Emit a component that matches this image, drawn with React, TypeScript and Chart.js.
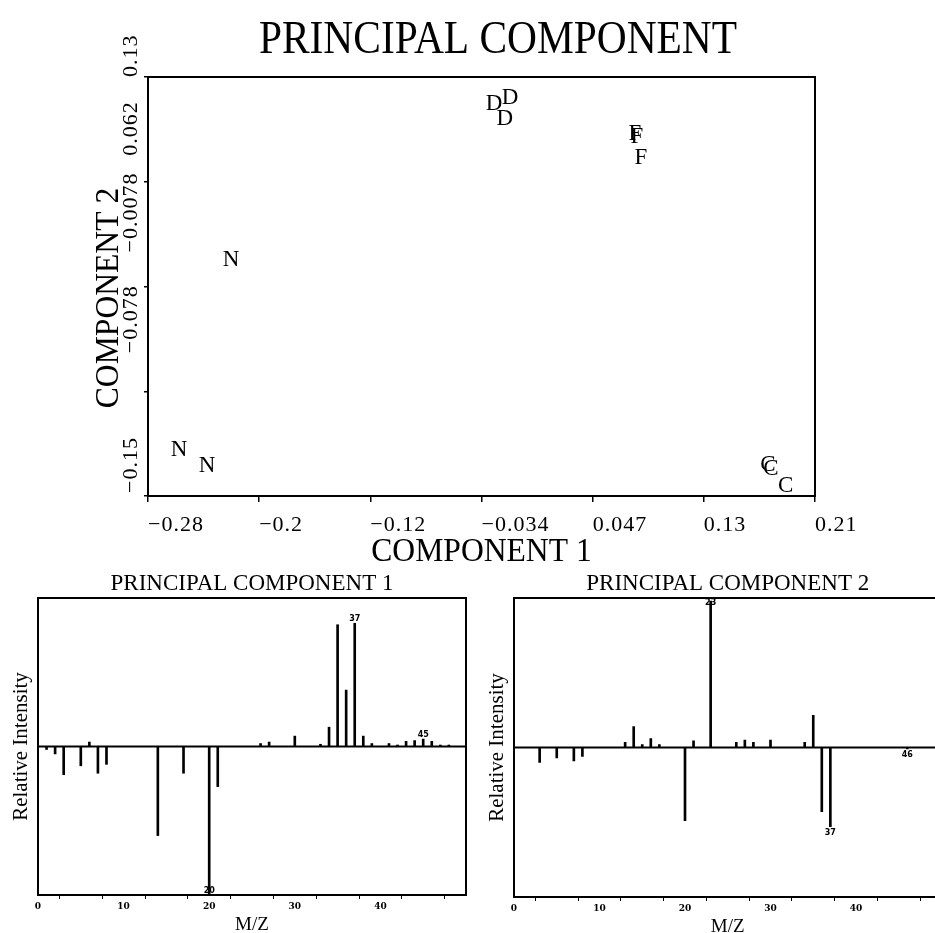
import React, { useEffect, useRef } from "react";
import { Chart, registerables } from "chart.js";

Chart.register(...registerables);

// ---------- Score plot data ----------
const sampleLetters = ["D", "D", "D", "F", "F", "F", "N", "N", "N", "C", "C", "C"];
const component1Scores = [-0.025, -0.0133, -0.017, 0.078, 0.0795, 0.0824, -0.2173, -0.2553, -0.2349, 0.1753, 0.1775, 0.1884];
const component2Scores = [0.1152, 0.1186, 0.1052, 0.0946, 0.0926, 0.0786, 0.0112, -0.1155, -0.1268, -0.1255, -0.1282, -0.1395];

const component1TickValues = [-0.278, -0.1967, -0.1154, -0.0341, 0.0472, 0.1285, 0.2098];
const component1TickLabels = ["\u22120.28", "\u22120.2", "\u22120.12", "\u22120.034", "0.047", "0.13", "0.21"];
const component2TickValues = [-0.1475, -0.07765, -0.0078, 0.06205, 0.1319];
const component2TickLabels = ["\u22120.15", "\u22120.078", "\u22120.0078", "0.062", "0.13"];

// ---------- Loading spectra ----------
const pc1Mz = [1, 2, 3, 5, 6, 7, 8, 14, 17, 20, 21, 26, 27, 30, 33, 34, 35, 36, 37, 38, 39, 41, 42, 43, 44, 45, 46, 47, 48];
const pc1Intensity = [-0.02, -0.05, -0.19, -0.13, 0.03, -0.18, -0.12, -0.6, -0.18, -1.0, -0.27, 0.02, 0.03, 0.07, 0.015, 0.13, 0.82, 0.38, 0.83, 0.07, 0.02, 0.02, 0.01, 0.035, 0.04, 0.05, 0.035, 0.01, 0.01];
const pc1PeakLabels = [37, 45, 20];

const pc2Mz = [3, 5, 7, 8, 13, 14, 15, 16, 17, 20, 21, 23, 26, 27, 28, 30, 34, 35, 36, 37, 46];
const pc2Intensity = [-0.1, -0.07, -0.09, -0.06, 0.035, 0.14, 0.02, 0.06, 0.02, -0.49, 0.045, 0.98, 0.035, 0.05, 0.035, 0.05, 0.035, 0.215, -0.43, -0.53, -0.01];
const pc2PeakLabels = [23, 37, 46];

const mzTickValues = [0, 5, 10, 15, 20, 25, 30, 35, 40, 45, 50];
const mzLabelValues = [0, 10, 20, 30, 40];

// style: vertical nudges of the rotated y tick labels (as placed in the original plot)
const yLabelNudge = [3, 38, 34, 26, 0];

type TextOpts = {
  font: string;
  align?: CanvasTextAlign;
  rotate?: number;
  scaleX?: number;
  spacing?: string;
};

function drawText(ctx: CanvasRenderingContext2D, text: string, x: number, y: number, o: TextOpts) {
  ctx.save();
  ctx.translate(x, y);
  if (o.rotate) ctx.rotate(o.rotate);
  if (o.scaleX) ctx.scale(o.scaleX, 1);
  ctx.font = o.font;
  ctx.fillStyle = "#000";
  ctx.textAlign = o.align || "left";
  ctx.textBaseline = "alphabetic";
  if (o.spacing) (ctx as any).letterSpacing = o.spacing;
  ctx.fillText(text, 0, 0);
  ctx.restore();
}

const SERIF = "'Liberation Serif', 'Times New Roman', serif";

const scorePlugin = {
  id: "scoreDecor",
  afterDraw(chart: any) {
    const { ctx, chartArea: a, scales } = chart;
    ctx.save();
    ctx.strokeStyle = "#000";
    ctx.lineWidth = 2;
    ctx.strokeRect(a.left, a.top, a.right - a.left, a.bottom - a.top);
    ctx.restore();

    const meta = chart.getDatasetMeta(0);
    meta.data.forEach((pt: any, i: number) => {
      drawText(ctx, sampleLetters[i], pt.x, pt.y + 7.5, { font: `23px ${SERIF}`, align: "center" });
    });

    component1TickValues.forEach((v, i) => {
      drawText(ctx, component1TickLabels[i], scales.x.getPixelForValue(v), a.bottom + 35, {
        font: `22px ${SERIF}`,
        spacing: "1px",
      });
    });
    component2TickValues.forEach((v, i) => {
      drawText(ctx, component2TickLabels[i], a.left - 11, scales.y.getPixelForValue(v) - yLabelNudge[i], {
        font: `22px ${SERIF}`,
        spacing: "1px",
        rotate: -Math.PI / 2,
      });
    });

    drawText(ctx, "COMPONENT 1", (a.left + a.right) / 2, a.bottom + 65, {
      font: `34px ${SERIF}`,
      align: "center",
      scaleX: 0.93,
    });
    drawText(ctx, "COMPONENT 2", a.left - 30, 298, {
      font: `34px ${SERIF}`,
      align: "center",
      scaleX: 0.93,
      rotate: -Math.PI / 2,
    });
    drawText(ctx, "PRINCIPAL COMPONENT", 498, 53, {
      font: `46px ${SERIF}`,
      align: "center",
      scaleX: 0.9,
    });
  },
};

function ScoreChart() {
  const ref = useRef<HTMLCanvasElement>(null);
  useEffect(() => {
    const chart = new Chart(ref.current as HTMLCanvasElement, {
      type: "scatter",
      data: {
        datasets: [
          {
            data: component1Scores.map((x, i) => ({ x, y: component2Scores[i] })),
            pointRadius: 0,
            pointHoverRadius: 0,
          },
        ],
      },
      options: {
        animation: false,
        responsive: false,
        events: [],
        layout: { padding: { left: 148, top: 77, right: 120, bottom: 74 } },
        plugins: { legend: { display: false }, tooltip: { enabled: false } },
        scales: {
          x: {
            type: "linear",
            min: component1TickValues[0],
            max: component1TickValues[component1TickValues.length - 1],
            afterBuildTicks: (s: any) => {
              s.ticks = component1TickValues.map((v) => ({ value: v }));
            },
            afterFit: (s: any) => {
              s.height = 0;
            },
            ticks: { display: false },
            grid: { display: true, drawOnChartArea: false, drawTicks: true, tickLength: 6, color: "#000", lineWidth: 1.5 },
            border: { display: false },
          },
          y: {
            type: "linear",
            min: component2TickValues[0],
            max: component2TickValues[component2TickValues.length - 1],
            afterBuildTicks: (s: any) => {
              s.ticks = component2TickValues.map((v) => ({ value: v }));
            },
            afterFit: (s: any) => {
              s.width = 0;
            },
            ticks: { display: false },
            grid: { display: true, drawOnChartArea: false, drawTicks: true, tickLength: 4, color: "#000", lineWidth: 1.5 },
            border: { display: false },
          },
        },
      } as any,
      plugins: [scorePlugin],
    });
    return () => chart.destroy();
  }, []);
  return <canvas ref={ref} width={935} height={570} style={{ position: "absolute", left: 0, top: 0 }} />;
}

type SpecProps = {
  mz: number[];
  intensity: number[];
  peaks: number[];
  title: string;
  left: number;
  width: number;
  padding: { left: number; top: number; right: number; bottom: number };
};

function SpectrumChart({ mz, intensity, peaks, title, left, width, padding }: SpecProps) {
  const ref = useRef<HTMLCanvasElement>(null);
  useEffect(() => {
    const decor = {
      id: "specDecor",
      beforeDatasetsDraw(chart: any) {
        const { ctx, chartArea: a, scales } = chart;
        const y0 = scales.y.getPixelForValue(0);
        ctx.save();
        ctx.strokeStyle = "#000";
        ctx.lineWidth = 2;
        ctx.beginPath();
        ctx.moveTo(a.left, y0);
        ctx.lineTo(a.right, y0);
        ctx.stroke();
        ctx.restore();
      },
      afterDraw(chart: any) {
        const { ctx, chartArea: a, scales } = chart;
        ctx.save();
        ctx.strokeStyle = "#000";
        ctx.lineWidth = 2;
        ctx.strokeRect(a.left, a.top, a.right - a.left, a.bottom - a.top);
        ctx.restore();

        peaks.forEach((m) => {
          const idx = mz.indexOf(m);
          const v = intensity[idx];
          const px = scales.x.getPixelForValue(m);
          const py = scales.y.getPixelForValue(v);
          const base = v >= 0 ? Math.max(py - 2, a.top + 7) : Math.min(py + 8, a.bottom - 2);
          drawText(ctx, String(m), px, base, { font: "bold 8px 'DejaVu Sans'", align: "center" });
        });

        mzLabelValues.forEach((v) => {
          drawText(ctx, String(v), scales.x.getPixelForValue(v), a.bottom + 14, {
            font: "bold 9px 'DejaVu Serif'",
            align: "center",
          });
        });

        const cx = (a.left + a.right) / 2;
        drawText(ctx, title, cx, a.top - 8, { font: `23px ${SERIF}`, align: "center" });
        drawText(ctx, "M/Z", cx, a.bottom + 35, { font: `19px ${SERIF}`, align: "center" });
        drawText(ctx, "Relative Intensity", a.left - 11, (a.top + a.bottom) / 2, {
          font: `21px ${SERIF}`,
          align: "center",
          rotate: -Math.PI / 2,
        });
      },
    };
    const chart = new Chart(ref.current as HTMLCanvasElement, {
      type: "bar",
      data: {
        datasets: [
          {
            data: mz.map((m, i) => ({ x: m, y: intensity[i] })),
            backgroundColor: "#000",
            borderWidth: 0,
            barThickness: 2,
          },
        ],
      },
      options: {
        animation: false,
        responsive: false,
        events: [],
        layout: { padding },
        plugins: { legend: { display: false }, tooltip: { enabled: false } },
        scales: {
          x: {
            type: "linear",
            min: 0,
            max: 50,
            offset: false,
            afterBuildTicks: (s: any) => {
              s.ticks = mzTickValues.map((v) => ({ value: v }));
            },
            afterFit: (s: any) => {
              s.height = 0;
            },
            ticks: { display: false },
            grid: { display: true, drawOnChartArea: false, drawTicks: true, tickLength: 4, color: "#000", lineWidth: 1 },
            border: { display: false },
          },
          y: { type: "linear", min: -1, max: 1, display: false },
        },
      } as any,
      plugins: [decor],
    });
    return () => chart.destroy();
  }, []);
  return <canvas ref={ref} width={width} height={363} style={{ position: "absolute", left, top: 570 }} />;
}

export default function App() {
  return (
    <div
      style={{
        position: "fixed",
        left: 0,
        top: 0,
        width: 935,
        height: 933,
        overflow: "hidden",
        background: "#fff",
      }}
    >
      <ScoreChart />
      <SpectrumChart
        mz={pc1Mz}
        intensity={pc1Intensity}
        peaks={pc1PeakLabels}
        title="PRINCIPAL COMPONENT 1"
        left={0}
        width={470}
        padding={{ left: 38, top: 28, right: 4, bottom: 38 }}
      />
      <SpectrumChart
        mz={pc2Mz}
        intensity={pc2Intensity}
        peaks={pc2PeakLabels}
        title="PRINCIPAL COMPONENT 2"
        left={470}
        width={480}
        padding={{ left: 44, top: 28, right: 8.5, bottom: 36 }}
      />
    </div>
  );
}
